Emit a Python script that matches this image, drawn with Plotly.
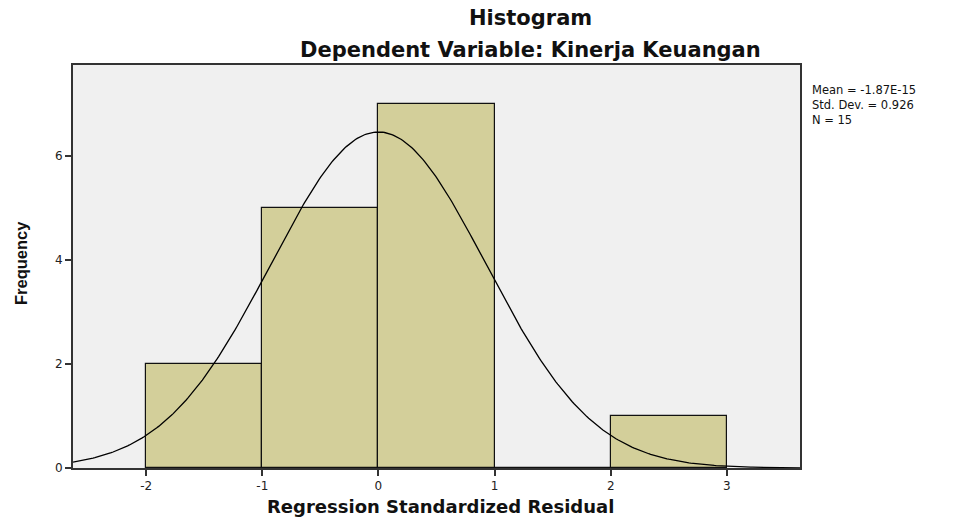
import numpy as np
import plotly.graph_objects as go

bin_edges = [-2, -1, 0, 1, 2, 3]
counts = [2, 5, 7, 0, 1]
mean_val = -1.87e-15
std_dev = 0.926
n_obs = 15
x_ticks = [-2, -1, 0, 1, 2, 3]
x_ticklabels = ["-2", "-1", "0", "1", "2", "3"]
y_ticks = [0, 2, 4, 6]
stat_lines = [f"Mean = {mean_val:.2E}", f"Std. Dev. = {std_dev}", f"N = {n_obs}"]

centers = [(a + b) / 2 for a, b in zip(bin_edges[:-1], bin_edges[1:])]
widths = [b - a for a, b in zip(bin_edges[:-1], bin_edges[1:])]

xr = [-2.63, 3.63]
yr = [0, 7.75]
xs = np.linspace(xr[0], xr[1], 400)
bw = widths[0]
ys = n_obs * bw / (std_dev * np.sqrt(2 * np.pi)) * np.exp(-0.5 * ((xs - mean_val) / std_dev) ** 2)

W, H = 963, 519
L, R, T, B = 73, 163, 65, 51
pw, ph = W - L - R, H - T - B


def px(x):
    return (x - L) / pw


def py(y):
    return (H - B - y) / ph


WIDE = "DejaVu Sans, Verdana, sans-serif"

fig = go.Figure()
fig.add_trace(go.Bar(x=centers, y=counts, width=widths,
                     marker=dict(color="#D3CF9A", line=dict(color="#111111", width=1.2)),
                     showlegend=False, hoverinfo="skip"))
fig.add_trace(go.Scatter(x=xs, y=ys, mode="lines", line=dict(color="#000000", width=1.3),
                         showlegend=False, hoverinfo="skip"))

fig.update_layout(
    width=W, height=H,
    margin=dict(l=L, r=R, t=T, b=B, autoexpand=False),
    paper_bgcolor="#FFFFFF", plot_bgcolor="#F0F0F0",
    bargap=0,
    font=dict(family="Arial, Liberation Sans, sans-serif", color="#000000"),
    xaxis=dict(range=xr, tickvals=x_ticks, ticktext=x_ticklabels, ticks="outside", ticklen=6,
               tickcolor="#333333", tickwidth=1.5, automargin=False,
               showgrid=False, zeroline=False, showline=True, linecolor="#333333", linewidth=2,
               mirror=True, tickfont=dict(size=12, color="#222222", family=WIDE)),
    yaxis=dict(range=yr, tickvals=y_ticks, ticks="outside", ticklen=6, automargin=False,
               tickcolor="#333333", tickwidth=1.5,
               showgrid=False, zeroline=False, showline=True, linecolor="#333333", linewidth=2,
               mirror=True, tickfont=dict(size=12, color="#222222", family=WIDE)),
)

fig.add_annotation(text="<b>Histogram</b>", x=px(530), y=py(18), xref="paper", yref="paper",
                   xanchor="center", yanchor="middle", showarrow=False,
                   font=dict(size=21, family=WIDE, color="#111111"))
fig.add_annotation(text="<b>Dependent Variable: Kinerja Keuangan</b>", x=px(530), y=py(50),
                   xref="paper", yref="paper", xanchor="center", yanchor="middle",
                   showarrow=False, font=dict(size=21, family=WIDE, color="#111111"))
fig.add_annotation(text="<b>Regression Standardized Residual</b>", x=px(440), y=py(507),
                   xref="paper", yref="paper", xanchor="center", yanchor="middle",
                   showarrow=False, font=dict(size=18, family=WIDE, color="#111111"))
fig.add_annotation(text="<b>Frequency</b>", x=px(21), y=py(263), textangle=-90,
                   xref="paper", yref="paper", xanchor="center", yanchor="middle",
                   showarrow=False,
                   font=dict(size=16.5, family="Liberation Sans Narrow, Arial Narrow, Liberation Sans, Arial",
                             color="#111111"))
fig.add_annotation(text="<br>".join(stat_lines), x=px(810), y=py(105), xref="paper", yref="paper",
                   xanchor="left", yanchor="middle", align="left", showarrow=False,
                   font=dict(size=11.5, color="#111111", family=WIDE))

fig.write_html("out.html", config={"displayModeBar": False},
               post_script="document.body.style.margin='0px';")
